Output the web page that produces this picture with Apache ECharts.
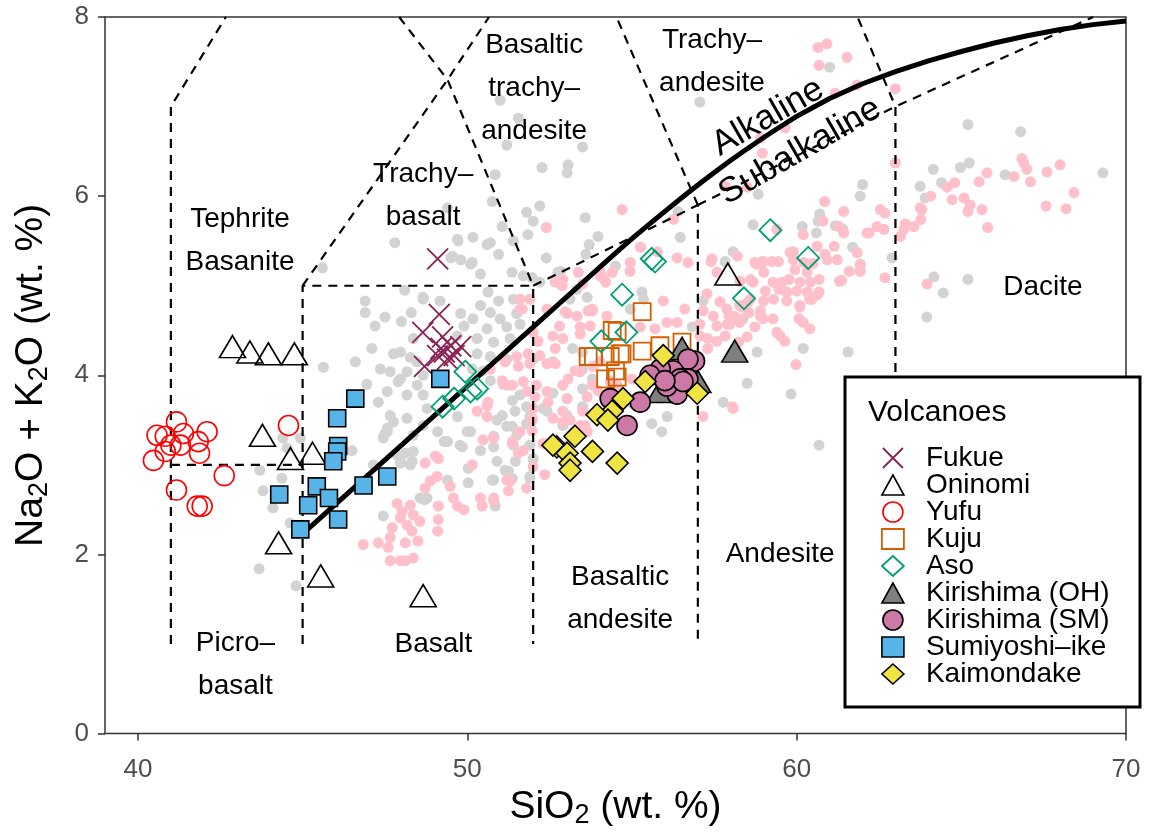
<!DOCTYPE html>
<html>
<head>
<meta charset="utf-8">
<script src="https://cdn.jsdelivr.net/npm/echarts@6/dist/echarts.min.js"></script>
<style>
  html, body { margin: 0; padding: 0; background: #fff; }
  #tas_main { width: 1151px; height: 834px; }
</style>
</head>
<body>
<div id="tas_main"></div>
<script>
// background compilations (SiO2, Na2O+K2O)
var greyData = [
  [51.0,7.07],[51.55,6.87],[51.2,6.57],[53.5,6.55],[52.27,6.32],[53.06,6.35],[53.03,6.26],[50.85,6.24],[50.76,5.94],[51.8,5.82],
  [52.2,5.89],[52.0,5.72],[51.06,5.66],[51.84,5.57],[53.58,5.76],[53.97,5.55],[49.7,5.52],[50.17,5.54],[50.7,5.48],[51.4,5.5],
  [50.95,5.35],[49.55,5.33],[50.15,5.26],[52.4,5.31],[53.7,5.46],[56.4,5.83],[56.47,5.54],[57.06,7.05],[58.83,6.02],[58.68,5.68],
  [58.07,5.38],[57.83,5.27],[54.5,5.22],[51.36,5.15],[51.7,5.11],[52.83,5.16],[47.8,5.48],[45.6,5.2],[49.4,5.87],
  [61.0,7.44],[65.2,6.8],[66.8,6.72],[64.15,6.3],[64.97,6.32],[65.24,6.37],[66.33,6.24],[69.3,6.26],[63.75,6.11],[64.4,6.15],
  [63.9,5.98],[62.0,6.13],[61.93,6.0],[60.7,5.8],[60.65,5.72],[60.17,5.66],[60.6,5.59],[61.4,5.63],[61.7,5.43],[62.9,5.31],
  [64.17,5.1],[65.2,5.07],[64.45,4.92],[63.95,4.65],[60.2,4.3],[61.56,4.26],[59.83,3.79],[60.68,3.22],[59.47,4.98],[61.17,5.67],
  [58.8,4.26],[49.72,5.5],[50.6,5.46],[50.1,5.24],[50.4,5.13],[49.5,5.31],[49.8,5.29],[52.75,5.15],[51.97,5.09],[53.6,5.35],
  [48.66,4.85],[49.17,4.83],[50.63,4.93],[50.95,4.83],[51.4,4.85],[50.4,4.78],[49.8,4.69],[50.17,4.63],[50.7,4.7],[51.0,4.63],
  [51.5,4.69],[49.9,4.55],[50.6,4.52],[51.2,4.54],[51.6,4.57],[49.7,4.44],[50.3,4.41],[50.8,4.37],[51.3,4.41],[48.36,4.41],
  [47.97,4.26],[47.76,4.24],[48.47,4.15],[50.3,4.24],[50.7,4.21],[51.2,4.18],[50.15,4.07],[50.48,4.05],[47.66,4.04],[48.17,4.04],
  [47.9,3.93],[48.66,4.0],[48.48,3.89],[47.57,3.82],[48.17,3.78],[48.66,3.78],[50.7,3.94],[51.2,3.89],[51.6,3.78],[51.45,3.6],
  [51.8,3.65],[52.3,3.63],[52.6,3.8],[53.03,3.74],[53.5,3.65],[53.4,4.04],[53.8,3.96],[53.2,4.3],[53.5,4.26],[52.6,4.15],
  [52.0,4.18],[47.66,3.55],[48.17,3.52],[47.57,3.41],[48.66,3.44],[49.7,3.54],[50.1,3.37],[50.9,3.5],[51.2,3.43],[51.5,3.33],
  [51.8,3.46],[49.3,3.26],[49.78,3.22],[50.4,3.16],[53.03,3.22],[53.64,3.15],[47.87,3.11],[48.36,3.33],[47.5,3.35],[47.97,3.04],
  [48.33,3.04],[48.12,3.13],[49.1,3.37],[49.4,3.26],[50.0,3.37],[49.85,3.2],[50.8,3.2],[51.36,3.43],[50.03,2.96],[50.03,2.8],
  [50.8,2.83],[51.37,2.85],[51.15,2.94],[51.46,3.04],[51.9,3.22],[52.0,3.07],[51.9,2.85],[50.85,2.54],[48.78,2.63],[47.45,2.43],
  [49.4,2.83],[46.9,4.83],[46.9,4.7],[48.66,4.87],[45.63,4.09],[47.36,4.07],[47.97,3.96],[48.27,4.2],[47.57,3.37],[47.76,3.48],
  [47.45,3.3],[48.36,3.15],[47.97,3.02],[48.27,3.0],[44.4,3.3],[44.53,3.19],[44.93,3.3],[43.7,2.94],[44.37,2.85],[43.8,2.71],
  [44.1,2.52],[46.5,3.16],[47.15,3.0],[48.57,2.63],[48.78,3.63],[43.68,1.84],[44.8,1.65],[44.62,2.35],[48.7,2.61],[55.3,4.93],
  [53.64,4.87],[57.16,4.83],[58.37,4.63],[58.5,3.91],[57.77,3.7],[56.83,4.54],[56.07,3.54],[55.9,3.37],[55.6,3.46],[55.0,3.69],
  [53.5,3.85],[52.9,3.44],[53.03,3.55],[52.42,3.6],[51.9,3.54],[51.37,3.72],[51.06,3.55],[50.8,3.32],[50.9,3.04],[51.4,3.22],
  [51.25,2.93],[51.9,2.87],[50.76,2.83],[52.2,5.04],[53.12,4.85],[53.33,4.96],[55.35,4.85],[54.95,4.74],[53.5,4.07],[54.14,3.77],
  [46.6,4.15],[47.1,4.3],[46.95,3.9],[47.3,3.7],[47.2,4.55],[47.5,4.65],[48.0,4.6],[48.3,4.7],[48.1,4.95]
];
var pinkData = [
  [46.84,2.11],[47.3,2.13],[47.72,2.3],[47.66,2.19],[47.6,2.08],[47.66,1.93],[47.97,1.93],[48.12,1.93],[48.36,1.96],[48.12,2.13],
  [48.5,2.15],[48.32,2.26],[48.17,2.33],[48.56,2.37],[47.97,2.41],[48.02,2.48],[47.87,2.57],[48.27,2.55],[48.36,2.44],[49.1,2.26],
  [49.12,2.39],[49.12,2.54],[48.72,2.74],[48.88,2.82],[49.08,2.87],[49.48,2.76],[49.58,2.63],[49.7,2.54],[49.9,2.5],[48.72,3.02],
  [49.03,3.1],[50.15,3.0],[50.48,3.28],[50.8,3.3],[50.45,2.54],[50.8,2.63],[51.25,2.71],[51.2,2.83],[51.8,2.74],[51.55,3.13],
  [51.7,3.16],[52.0,2.98],[52.35,2.89],[51.37,3.24],[51.97,3.5],[52.3,3.24],[52.9,3.48],[54.4,5.15],[54.03,5.16],[52.88,5.0],
  [51.9,4.85],[51.67,4.74],[52.42,4.74],[53.03,4.69],[52.8,4.55],[53.33,4.66],[53.67,4.72],[52.6,4.44],[52.15,4.38],[52.67,4.3],
  [51.5,4.21],[51.85,4.24],[52.2,4.22],[52.42,4.13],[51.9,4.13],[51.55,4.1],[52.67,4.13],[51.15,4.15],[51.06,3.94],[51.37,3.89],
  [51.7,3.93],[51.82,3.82],[52.1,3.89],[52.06,3.76],[52.42,3.82],[52.0,3.63],[51.97,3.52],[50.63,3.7],[50.6,3.54],[50.3,3.6],
  [51.6,3.37],[51.37,3.26],[51.97,3.38],[52.45,3.7],[52.9,3.6],[53.5,3.6],[53.43,3.44],[53.64,3.37],[52.6,3.52],[54.34,3.93],
  [53.8,3.89],[53.64,3.76],[53.03,3.74],[53.27,4.05],[52.9,3.89],[53.82,4.1],[54.24,4.66],[53.73,4.55],[53.43,4.46],[54.03,4.15],
  [52.0,4.48],[52.67,5.04],[53.5,5.02],[54.03,5.11],[53.37,5.15],[51.6,4.85],[55.25,5.43],[56.7,5.26],[54.94,5.16],[54.13,5.09],
  [55.95,4.83],[56.6,4.74],[56.06,4.59],[56.37,4.59],[55.7,4.52],[55.25,4.54],[52.97,4.71],[53.8,4.74],[53.43,4.54],[52.9,4.41],
  [53.06,3.96],[53.43,4.04],[53.97,3.83],[54.55,3.89],[55.0,3.96],[53.12,3.5],[53.58,3.44],[58.07,3.63],[57.16,3.54],[57.06,4.57],
  [57.16,4.72],[57.28,4.91],[57.47,4.66],[57.67,4.82],[57.88,4.74],[58.1,4.66],[58.27,4.78],[57.97,4.57],[57.58,4.55],[57.06,4.44],
  [57.3,4.41],[57.58,4.38],[57.83,4.44],[58.27,4.59],[58.73,4.54],[58.98,4.63],[58.9,4.72],[59.28,4.63],[59.28,5.04],[58.68,5.04],
  [58.8,5.24],[58.95,5.27],[58.2,5.33],[57.4,5.27],[58.24,4.37],[57.3,4.3],[57.58,5.15],[56.37,5.31],[60.85,5.94],[60.8,5.72],
  [60.2,5.57],[61.43,5.83],[61.28,5.66],[61.43,5.59],[61.14,5.44],[60.62,5.44],[60.86,5.35],[59.9,5.38],[59.9,5.29],[61.84,5.37],
  [61.93,5.24],[61.93,5.16],[61.6,5.16],[61.37,5.06],[61.23,5.29],[60.93,5.29],[60.5,5.25],[60.22,5.26],[59.95,5.18],[60.32,5.15],
  [60.68,5.07],[60.42,5.04],[60.1,5.04],[59.77,5.07],[59.56,5.04],[59.47,4.96],[59.7,4.93],[60.0,4.94],[60.32,4.93],[60.68,4.93],
  [60.47,4.85],[60.1,4.78],[59.7,4.83],[59.3,4.85],[59.05,4.94],[59.0,4.83],[58.6,4.85],[58.5,4.81],[58.35,4.76],[58.55,4.7],
  [58.25,4.63],[57.95,4.66],[57.9,4.57],[58.28,5.05],[58.6,5.07],[59.0,5.15],[58.73,5.26],[59.25,5.27],[59.4,4.48],[59.64,4.38],
  [60.07,4.63],[58.5,4.43],[62.2,5.59],[62.54,5.85],[62.44,5.66],[62.65,5.63],[62.68,5.09],[63.0,6.37],[63.15,5.55],[63.3,5.69],
  [63.56,5.66],[63.75,5.87],[63.96,5.02],[60.65,7.66],[60.92,7.7],[60.68,7.46],[61.53,7.55],[61.83,7.24],[61.17,7.15],[63.0,7.2],
  [59.65,6.76],[64.8,6.15],[64.57,6.1],[64.07,6.0],[63.8,5.85],[64.72,5.96],[65.08,5.98],[65.27,5.9],[65.63,5.85],[65.54,6.16],
  [65.78,6.26],[66.6,6.22],[66.84,6.42],[66.9,6.37],[66.99,6.3],[67.1,6.16],[67.6,6.27],[68.0,6.35],[68.42,6.04],[67.57,5.89],
  [68.18,5.86],[65.2,5.83],[65.8,5.65],[63.77,5.74],[63.26,5.63],[62.68,5.81],[62.14,5.59],[61.93,5.22],[59.8,5.37],[54.7,5.85],
  [52.4,5.65],[56.26,5.74],[55.27,5.43],[55.77,5.38],[57.43,5.3],[59.0,5.27],[59.45,5.27],[54.95,5.26],[58.9,6.65],[58.96,6.48],
  [57.83,6.11],[58.5,6.1],[59.4,5.63],[51.6,4.74],[52.9,5.07],[54.2,5.04],[53.8,4.72],[50.7,4.07],[51.1,3.9],[50.6,3.66],
  [49.12,3.07],[50.4,2.63],[50.8,2.6],[51.3,2.82],[58.05,3.65],[58.9,4.66],[60.2,4.59],[60.4,4.52],[59.5,4.44],[60.1,4.76],
  [60.4,4.85],[60.63,4.9],[59.98,4.12],[61.3,5.05]
];

// volcano samples
var fukue = [[49.1,5.3],[49.15,4.68],[48.65,4.48],[49.25,4.43],[49.8,4.32],[49.5,4.33],[49.3,4.26],[49.1,4.22],[48.7,4.1],[49.4,4.18],[49.2,4.3],[49.6,4.22]];
var oninomi = [[42.87,4.32],[43.4,4.26],[43.96,4.24],[44.75,4.24],[43.78,3.33],[44.63,3.07],[45.3,3.13],[44.27,2.13],[45.55,1.76],[48.66,1.54],[57.91,5.13]];
var yufu = [[41.17,3.48],[40.83,3.32],[40.58,3.33],[41.38,3.35],[41.29,3.22],[40.83,3.15],[40.47,3.05],[41.83,3.26],[42.1,3.37],[41.87,3.13],[44.57,3.44],[42.62,2.88],[41.17,2.72],[41.8,2.54],[41.95,2.54],[41.0,3.22]];
var kuju = [[55.31,4.71],[54.55,4.49],[53.83,4.21],[53.67,4.21],[54.7,4.24],[54.2,3.96],[54.5,4.05],[54.55,3.98],[55.31,4.27],[55.85,4.33],[56.52,4.37],[54.64,4.24],[54.34,4.21],[54.4,4.5]];
var aso = [[59.2,5.62],[60.35,5.31],[58.4,4.86],[55.6,5.3],[55.7,5.27],[54.7,4.9],[54.83,4.48],[54.07,4.38],[49.94,4.04],[50.3,3.85],[50.1,3.82],[49.6,3.74],[49.25,3.65]];
var kirishimaOH = [[58.12,4.27],[56.52,4.3],[55.85,3.82],[57.0,3.93]];
var kirishimaSM = [[56.9,4.16],[56.7,4.18],[56.25,4.05],[56.37,3.79],[56.06,3.88],[56.7,3.96],[56.46,3.96],[55.86,4.07],[55.55,4.0],[55.25,3.7],[54.34,3.74],[54.85,3.44],[56.55,3.93],[56.0,3.94]];
var sumiyoshi = [[46.6,3.74],[46.05,3.52],[46.08,3.21],[46.05,3.15],[45.93,3.04],[44.29,2.67],[45.43,2.76],[45.8,2.63],[45.17,2.55],[46.85,2.77],[47.57,2.87],[49.18,3.96],[44.93,2.28],[46.08,2.39]];
var kaimondake = [[55.95,4.22],[55.4,3.93],[56.98,3.8],[54.73,3.74],[54.4,3.6],[53.94,3.56],[54.27,3.5],[53.27,3.32],[52.72,3.2],[53.03,3.13],[53.8,3.15],[53.12,3.02],[53.12,2.94],[54.55,3.02],[52.6,3.22]];

// TAS field boundaries (dashed) and alkaline/subalkaline divide
var tasLines = [
  [[41,1],[41,7],[42.67,8]],
  [[41,3],[45,3]],
  [[45,1],[45,5],[52,5],[52,1]],
  [[45,5],[49.4,7.3],[50.66,8]],
  [[47.93,8],[49.4,7.3],[52,5]],
  [[52,5],[57,5.9],[57,1]],
  [[57,5.9],[54.53,8]],
  [[57,5.9],[63,7],[69,8]],
  [[63,1],[63,7],[61.85,8]]
];
var alkCurve = [
  [45.15,2.28],[50,3.88],[54,5.2],[54.5,5.365],[55,5.525],[55.5,5.68],[56,5.83],[56.5,5.98],[57,6.125],[57.5,6.265],
  [58,6.4],[58.5,6.53],[59,6.655],[59.5,6.775],[60,6.89],[61,7.09],[62,7.255],[63,7.39],[64,7.51],[65,7.615],
  [66,7.71],[67,7.79],[68,7.86],[69,7.915],[70,7.955]
];

var regionLabels = [
  {name: 'Tephrite\nBasanite', value: [43.1, 5.5]},
  {name: 'Trachy–\nbasalt', value: [48.66, 6.0]},
  {name: 'Basaltic\ntrachy–\nandesite', value: [52.03, 7.2]},
  {name: 'Trachy–\nandesite', value: [57.43, 7.5]},
  {name: 'Picro–\nbasalt', value: [42.96, 0.77]},
  {name: 'Basalt', value: [48.97, 1.0]},
  {name: 'Basaltic\nandesite', value: [54.64, 1.5]},
  {name: 'Andesite', value: [59.5, 2.0]},
  {name: 'Dacite', value: [67.48, 4.98]}
];
var seriesLabels = [
  {name: 'Alkaline', value: [59.13, 6.88]},
  {name: 'Subalkaline', value: [60.1, 6.5]}
];

var xTicks = [40, 50, 60, 70];
var yTicks = [0, 2, 4, 6, 8];

var FONT = '"Liberation Sans", Arial, Helvetica, sans-serif';
var CROSS = 'path://M0,0L10,10M10,0L0,10';

var volcanoes = [
  {name: 'Fukue', data: fukue, symbol: CROSS, size: 21, fill: 'rgba(0,0,0,0)', stroke: '#882255', bw: 1.8},
  {name: 'Oninomi', data: oninomi, symbol: 'triangle', size: [26, 22], fill: 'rgba(0,0,0,0)', stroke: '#000', bw: 1.6},
  {name: 'Yufu', data: yufu, symbol: 'circle', size: 20, fill: 'rgba(0,0,0,0)', stroke: '#FF0000', bw: 1.6},
  {name: 'Kuju', data: kuju, symbol: 'rect', size: 17, fill: 'rgba(0,0,0,0)', stroke: '#D55E00', bw: 1.8},
  {name: 'Aso', data: aso, symbol: 'diamond', size: 22, fill: 'rgba(0,0,0,0)', stroke: '#009E73', bw: 1.8},
  {name: 'Kirishima (OH)', data: kirishimaOH, symbol: 'triangle', size: [26, 22], fill: '#7F7F7F', stroke: '#000', bw: 1.6},
  {name: 'Kirishima (SM)', data: kirishimaSM, symbol: 'circle', size: 20, fill: '#CC79A7', stroke: '#000', bw: 1.6},
  {name: 'Sumiyoshi–ike', data: sumiyoshi, symbol: 'rect', size: 17, fill: '#56B4E9', stroke: '#000', bw: 1.6},
  {name: 'Kaimondake', data: kaimondake, symbol: 'diamond', size: 22, fill: '#F0E442', stroke: '#000', bw: 1.6}
];

var series = [
  {type: 'scatter', name: 'bg_grey', data: greyData, symbol: 'circle', symbolSize: 11,
   itemStyle: {color: '#D3D3D3', opacity: 1}, silent: true, z: 2},
  {type: 'scatter', name: 'bg_pink', data: pinkData, symbol: 'circle', symbolSize: 11,
   itemStyle: {color: '#FFC0CB', opacity: 1}, silent: true, z: 2}
];
for (var i = 0; i < tasLines.length; i++) {
  series.push({type: 'line', data: tasLines[i], symbol: 'none', silent: true, z: 3,
    lineStyle: {color: '#000', width: 2.2, type: [9, 7]}});
}
series.push({type: 'line', data: alkCurve, symbol: 'none', silent: true, z: 3,
  lineStyle: {color: '#000', width: 5, join: 'round'}});
volcanoes.forEach(function (v) {
  series.push({type: 'scatter', name: v.name, data: v.data, symbol: v.symbol, symbolSize: v.size,
    itemStyle: {color: v.fill, borderColor: v.stroke, borderWidth: v.bw, opacity: 1}, z: 4});
});
series.push({type: 'scatter', data: regionLabels, symbolSize: 0, silent: true, z: 5,
  itemStyle: {opacity: 1},
  label: {show: true, position: 'inside', formatter: '{b}', color: '#000', fontFamily: FONT,
    fontSize: 28, lineHeight: 43, align: 'center'}});
series.push({type: 'scatter', data: seriesLabels, symbolSize: 0, silent: true, z: 5,
  itemStyle: {opacity: 1},
  label: {show: true, position: 'inside', formatter: '{b}', color: '#000', fontFamily: FONT,
    fontSize: 35, rotate: 30}});

var titleRich = {
  a: {fontFamily: FONT, fontSize: 39, color: '#000', lineHeight: 44, verticalAlign: 'middle'},
  s: {fontFamily: FONT, fontSize: 27, color: '#000', lineHeight: 28, verticalAlign: 'bottom'}
};

var chart = echarts.init(document.getElementById('tas_main'));
chart.setOption({
  animation: false,
  backgroundColor: '#fff',
  grid: {left: 105, right: 25, top: 17, bottom: 97, show: true, borderColor: '#333', borderWidth: 1.5, backgroundColor: 'transparent'},
  xAxis: {
    type: 'value', min: 39, max: 70,
    name: '{a|SiO}{s|2}{a| (wt. %)}', nameLocation: 'middle', nameGap: 43,
    nameTextStyle: {rich: titleRich},
    splitLine: {show: false},
    axisLine: {show: false},
    axisTick: {show: true, length: 7, lineStyle: {color: '#333', width: 1.5}, customValues: xTicks},
    axisLabel: {fontFamily: FONT, fontSize: 26, color: '#4D4D4D', margin: 23, customValues: xTicks}
  },
  yAxis: {
    type: 'value', min: 0, max: 8,
    name: '{a|Na}{s|2}{a|O + K}{s|2}{a|O (wt. %)}', nameLocation: 'middle', nameGap: 52, nameRotate: 90,
    nameTextStyle: {rich: titleRich},
    splitLine: {show: false},
    axisLine: {show: false},
    axisTick: {show: true, length: 7, lineStyle: {color: '#333', width: 1.5}, customValues: yTicks},
    axisLabel: {fontFamily: FONT, fontSize: 26, color: '#4D4D4D', margin: 16, customValues: yTicks}
  },
  legend: {
    orient: 'vertical', left: 876, top: 439, z: 60,
    itemWidth: 22, itemHeight: 20, itemGap: -1, selectedMode: false,
    textStyle: {fontFamily: FONT, fontSize: 28, color: '#000', lineHeight: 22, padding: [0, 0, 0, 17]},
    data: volcanoes.map(function (v) {
      return {name: v.name, icon: v.symbol,
        itemStyle: {color: v.fill, borderColor: v.stroke, borderWidth: v.bw}};
    })
  },
  graphic: [
    {type: 'rect', z: 50, shape: {x: 845, y: 377, width: 295, height: 330},
     style: {fill: '#fff', stroke: '#000', lineWidth: 3}},
    {type: 'text', z: 51, x: 868, y: 413,
     style: {text: 'Volcanoes', fontFamily: FONT, fontSize: 30, fill: '#000', verticalAlign: 'middle'}}
  ],
  series: series
});
</script>
</body>
</html>
